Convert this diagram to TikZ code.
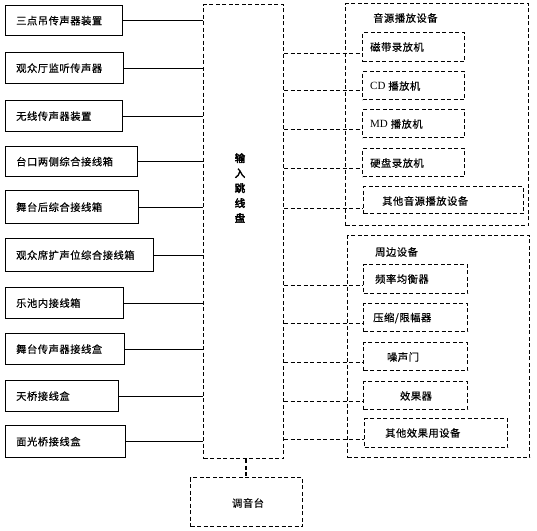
\documentclass[tikz,border=0pt]{standalone}
\usepackage{fontspec}
\newfontfamily\cjk[LetterSpace=5,FakeBold=0.3]{Noto Sans CJK SC}
\newfontfamily\cjkb[FakeBold=3.5]{Noto Sans CJK SC}
\newfontfamily\lat{Liberation Serif}
\begin{document}
\begin{tikzpicture}[x=1pt,y=-1pt,
  every node/.style={font=\cjk\fontsize{10.3}{12}\selectfont},
  sbox/.style={draw, line width=1.3pt, anchor=north west, inner xsep=0pt, inner ysep=0pt, align=left},
  dbox/.style={draw, line width=1.2pt, dash pattern=on 4pt off 2.5pt, anchor=north west, inner sep=0pt},
  sline/.style={line width=1.1pt},
  dline/.style={line width=1.2pt, dash pattern=on 4pt off 2.5pt},
  lbl/.style={anchor=west, inner sep=0pt}]
\useasboundingbox (0,0) rectangle (537,530);
% left solid boxes
\foreach \n/\y/\w/\h/\t in {
  b1/5/117/30/三点吊传声器装置,
  b2/52/118/31/观众厅监听传声器,
  b3/100/117/31/无线传声器装置,
  b4/146/132/30/台口两侧综合接线箱,
  b5/190/133/33/舞台后综合接线箱,
  b6/238/148/33/观众席扩声位综合接线箱,
  b7/287/118/31/乐池内接线箱,
  b8/333/119/31/舞台传声器接线盒,
  b9/380/113/31/天桥接线盒,
  b10/425/120/32/面光桥接线盒}
{
  \node[sbox, minimum width=\w, minimum height=\h] (\n) at (5,\y) {};
  \node[lbl] (\n t) at ([xshift=11pt]\n.west) {\t};
}
% input patch panel
\node[dbox, minimum width=80, minimum height=454] (panel) at (203,4) {};
\node[font=\cjkb\fontsize{10.5}{15}\selectfont, align=center, inner sep=0pt] (ptxt) at (240,188) {输\\入\\跳\\线\\盘};
% left connectors
\foreach \n in {b1,b2,b3,b4,b5,b6,b7,b8,b9,b10}
  \draw[sline] (\n.east) -- (\n.east -| panel.west);
% mixer
\node[dbox, minimum width=112, minimum height=49] (mix) at (190,477) {};
\node[inner sep=0pt] (mixt) at (248,503) {调音台};
\draw[dline] (panel.south -| 246,0) -- (mix.north -| 246,0);
% group 1
\node[dbox, minimum width=183, minimum height=222] (g1) at (345,3) {};
\node[lbl] (g1t) at (373,18) {音源播放设备};
\node[dbox, minimum width=102, minimum height=29] (s1) at (362,32) {};
\node[lbl] (s1t) at (370,47) {磁带录放机};
\node[dbox, minimum width=102, minimum height=28] (s2) at (362,71) {};
\node[lbl] (s2t) at (370,86) {{\lat\fontsize{11}{12}\selectfont CD} 播放机};
\node[dbox, minimum width=102, minimum height=28] (s3) at (362,109) {};
\node[lbl] (s3t) at (370,124) {{\lat\fontsize{11}{12}\selectfont MD} 播放机};
\node[dbox, minimum width=102, minimum height=28] (s4) at (362,148) {};
\node[lbl] (s4t) at (370,163) {硬盘录放机};
\node[dbox, minimum width=160, minimum height=27] (s5) at (363,186) {};
\node[lbl] (s5t) at (382,201) {其他音源播放设备};
% group 2
\node[dbox, minimum width=182, minimum height=222] (g2) at (347,235) {};
\node[lbl] (g2t) at (375,252) {周边设备};
\node[dbox, minimum width=104, minimum height=29] (e1) at (363,264) {};
\node[lbl] (e1t) at (375,279) {频率均衡器};
\node[dbox, minimum width=104, minimum height=28] (e2) at (363,303) {};
\node[lbl] (e2t) at (373,318) {压缩/限幅器};
\node[dbox, minimum width=104, minimum height=28] (e3) at (363,342) {};
\node[inner sep=0pt] (e3t) at (403,357) {噪声门};
\node[dbox, minimum width=104, minimum height=28] (e4) at (363,381) {};
\node[inner sep=0pt] (e4t) at (416,396) {效果器};
\node[dbox, minimum width=143, minimum height=29] (e5) at (364,418) {};
\node[lbl] (e5t) at (385,433) {其他效果用设备};
% right connectors
\foreach \n/\d in {s1/6,s2/5,s3/6,s4/6,s5/8,e1/6,e2/6,e3/6,e4/6,e5/6}
  \draw[dline] ([yshift=-\d pt]\n.west -| panel.east) -- ([yshift=-\d pt]\n.west);
\end{tikzpicture}
\end{document}
